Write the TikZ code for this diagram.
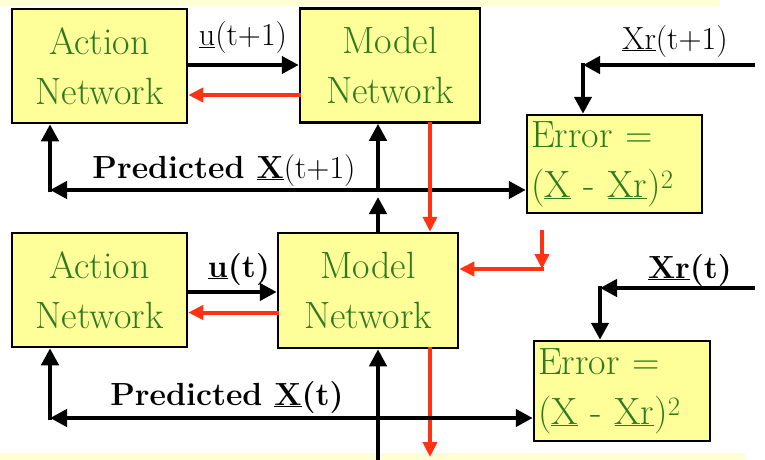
\documentclass[tikz,border=0pt]{standalone}
\usepackage{fontspec}
\usetikzlibrary{arrows.meta,calc}
\definecolor{boxfill}{HTML}{FFFF99}
\definecolor{boxtext}{HTML}{2F7A1F}
\definecolor{arrred}{HTML}{FF3311}
\definecolor{band}{HTML}{FFFFD6}
\begin{document}
\begin{tikzpicture}[x=1pt,y=-1pt,
  netbox/.style={draw=black,line width=2.5pt,fill=boxfill,text=boxtext,
    font=\fontsize{38}{50}\selectfont,align=center,inner sep=0pt},
  errbox/.style={netbox,align=left,text width=167pt,inner xsep=4pt},
  blk/.style={draw=black,line width=4.5pt,line cap=rect,-{Triangle[length=17pt,width=17pt]}},
  redl/.style={draw=arrred,line width=4pt,line cap=rect,-{Triangle[length=15pt,width=14pt]}},
  lbl/.style={font=\fontsize{32}{40}\selectfont,inner sep=0pt,anchor=base},
  lblb/.style={lbl,font=\fontsize{32}{40}\selectfont\bfseries}
]
\useasboundingbox (0,0) rectangle (765,460);
\fill[white] (0,0) rectangle (765,460);
\fill[band] (0,0) rectangle (720,6);
\fill[band] (0,453) rectangle (745,460);

% boxes
\node[netbox,minimum width=175pt,minimum height=114pt] (a1) at (99.5,66) {Action\\Network};
\node[netbox,minimum width=180pt,minimum height=114pt] (m1) at (390,65.5) {Model\\Network};
\node[errbox,minimum height=98pt] (e1) at (614.5,164) {Error =\\(\underline{X} - \underline{Xr})\textsuperscript{2}};
\node[netbox,minimum width=175pt,minimum height=114pt] (a2) at (99.5,290) {Action\\Network};
\node[netbox,minimum width=180pt,minimum height=115pt] (m2) at (368,290.5) {Model\\Network};
\node[errbox,minimum height=100pt,text width=168pt] (e2) at (622,391) {Error =\\(\underline{X} - \underline{Xr})\textsuperscript{2}};

% coordinates
\coordinate (j1) at (378,190);
\coordinate (j1b) at (378,197);
\coordinate (c1) at (50,190);
\coordinate (rx) at (430,0);
\coordinate (x1s) at (753,65);
\coordinate (x1c) at (583,65);
\coordinate (r2) at (542,232);
\coordinate (r3) at (542,269);
\coordinate (bot1) at (378,462);
\coordinate (bot2) at (430,457);
\coordinate (j2) at (378,418);
\coordinate (c2) at (50,418);
\coordinate (x2s) at (753,288);
\coordinate (x2c) at (600,288);

% top row connectors
\draw[blk] ([yshift=1pt]a1.east) -- ([yshift=1pt]a1.east -| m1.west);
\draw[redl] ([yshift=-29.5pt]m1.west) -- ([yshift=-29.5pt]m1.west -| a1.east);
\draw[blk] (j1 |- m2.north) -- (j1b);
\draw[blk] (j1) -- (j1 |- m1.south);
\draw[blk] (j1) -- (c1);
\draw[blk] (c1) -- (c1 |- a1.south);
\draw[blk] (j1) -- (j1 -| e1.west);
\draw[redl] (rx |- m1.south) -- (rx |- m2.north);
\draw[blk] (x1s) -- (x1c);
\draw[blk] (x1c) -- (x1c |- e1.north);

% bottom row connectors
\draw[blk] ([yshift=-2pt]a2.east) -- ([yshift=-2pt]a2.east -| m2.west);
\draw[redl] ([yshift=-22pt]m2.west) -- ([yshift=-22pt]m2.west -| a2.east);
\draw[redl] (r2) -- (r3);
\draw[redl] (r3) -- (r3 -| m2.east);
\draw[blk] (bot1) -- (bot1 |- m2.south);
\draw[redl] (rx |- m2.south) -- (bot2);
\draw[blk] (j2) -- (c2);
\draw[blk] (c2) -- (c2 |- a2.south);
\draw[blk] (j2) -- (j2 -| e2.west);
\draw[blk] (x2s) -- (x2c);
\draw[blk] (x2c) -- (x2c |- e2.north);

% labels
\node[lbl] (l1) at (243,46) {\underline{u}(t+1)};
\node[lbl] (l2) at (675,49) {\underline{Xr}(t+1)};
\node[lbl] (l3) at (224,178) {\textbf{Predicted \underline{X}}(t+1)};
\node[lblb] (l4) at (239,277) {\underline{u}(t)};
\node[lblb] (l5) at (690,278) {\underline{Xr}(t)};
\node[lblb] (l6) at (227,405) {Predicted \underline{X}(t)};
\end{tikzpicture}
\end{document}
